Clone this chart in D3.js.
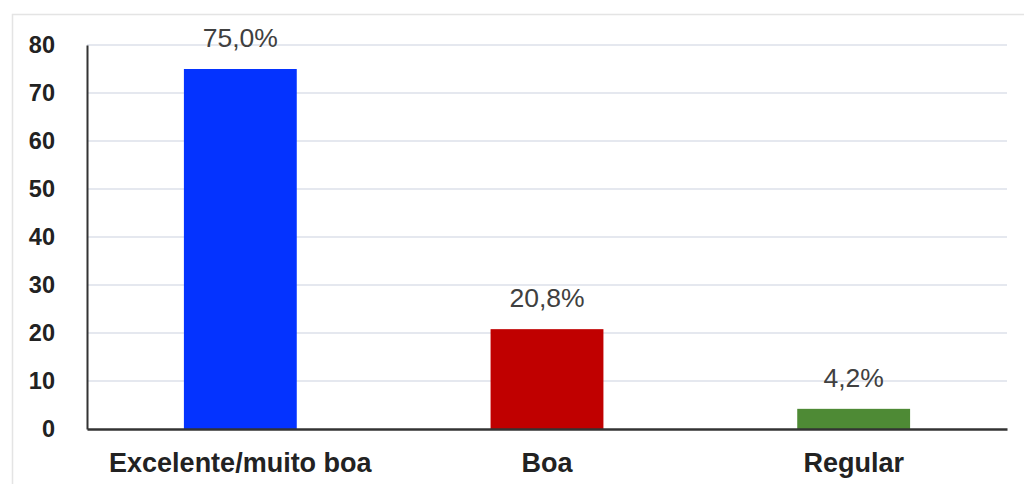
<!DOCTYPE html>
<html>
<head>
<meta charset="utf-8">
<script src="https://cdn.jsdelivr.net/npm/d3@7"></script>
<style>
  html, body { margin: 0; padding: 0; background: #fff; }
  svg { display: block; }
</style>
</head>
<body>
<svg id="chart" width="1024" height="484"></svg>
<script>
// Avaliação: percentual de respostas por categoria
const categories = ["Excelente/muito boa", "Boa", "Regular"];
const values = [75.0, 20.8, 4.2];
const valueLabels = ["75,0%", "20,8%", "4,2%"];
const barColors = ["#0433ff", "#c00000", "#4e8a35"];
const yTicks = [0, 10, 20, 30, 40, 50, 60, 70, 80];

const svg = d3.select("#chart");
const W = 1024, H = 484;
const margin = { top: 45, right: 17, bottom: 55, left: 87 };
const plotW = W - margin.left - margin.right;
const plotH = H - margin.top - margin.bottom;
const font = "Liberation Sans, Arial, sans-serif";

// outer frame (light grey, left and top edges visible)
svg.append("path")
  .attr("d", `M12.5,${H} L12.5,14.5 L${W},14.5`)
  .attr("fill", "none")
  .attr("stroke", "#e4e4e4")
  .attr("stroke-width", 1.5);

const g = svg.append("g").attr("transform", `translate(${margin.left},${margin.top})`);

const x = d3.scaleBand().domain(categories).range([0, plotW]).paddingInner(0.632).paddingOuter(0.316);
const y = d3.scaleLinear().domain([0, 80]).range([plotH, 0]);

// horizontal gridlines
g.append("g")
  .selectAll("line")
  .data(yTicks.filter(t => t > 0))
  .join("line")
  .attr("x1", 0).attr("x2", plotW)
  .attr("y1", d => y(d)).attr("y2", d => y(d))
  .attr("stroke", "#dde1ea")
  .attr("stroke-width", 1.5);

// bars
g.append("g")
  .selectAll("rect")
  .data(values)
  .join("rect")
  .attr("x", (d, i) => x(categories[i]))
  .attr("y", d => y(d))
  .attr("width", x.bandwidth())
  .attr("height", d => plotH - y(d))
  .attr("fill", (d, i) => barColors[i]);

// value labels
g.append("g")
  .selectAll("text")
  .data(values)
  .join("text")
  .attr("x", (d, i) => x(categories[i]) + x.bandwidth() / 2)
  .attr("y", d => y(d) - 22)
  .attr("text-anchor", "middle")
  .attr("font-family", font)
  .attr("font-size", 26.5)
  .attr("fill", "#404040")
  .text((d, i) => valueLabels[i]);

// y axis
const yAxis = g.append("g")
  .call(d3.axisLeft(y).tickValues(yTicks).tickSize(0).tickPadding(32));
yAxis.select(".domain").attr("stroke", "#333").attr("stroke-width", 2);
yAxis.selectAll("text")
  .attr("font-family", font)
  .attr("font-size", 23.5)
  .attr("font-weight", "bold")
  .attr("fill", "#222");

// x axis
const xAxis = g.append("g")
  .attr("transform", `translate(0,${plotH})`)
  .call(d3.axisBottom(x).tickSize(0));
xAxis.select(".domain").attr("stroke", "#333").attr("stroke-width", 2.5);
xAxis.selectAll("text")
  .attr("y", 43)
  .attr("dy", 0)
  .attr("font-family", font)
  .attr("font-size", 27)
  .attr("font-weight", "bold")
  .attr("fill", "#222");
</script>
</body>
</html>
